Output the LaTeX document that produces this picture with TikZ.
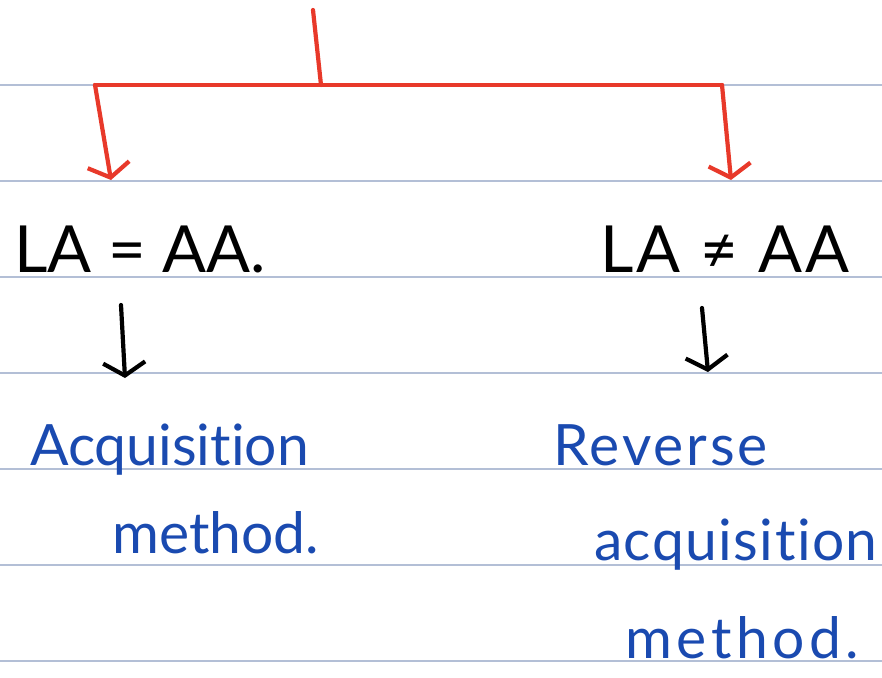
\documentclass[tikz,border=0pt]{standalone}
\usepackage{fontspec}
\setmainfont{Lato}[Ligatures={NoCommon,NoRequired,NoContextual}]
\usetikzlibrary{arrows.meta}
\definecolor{rulecol}{HTML}{B3BFD6}
\definecolor{inkred}{HTML}{E8392A}
\definecolor{inkblue}{HTML}{1A4AB0}
\tikzset{
  ruleline/.style={draw=rulecol, line width=1.4pt},
  redink/.style={draw=inkred, line width=4.2pt, line cap=round, line join=round},
  blackink/.style={draw=black, line width=4.2pt, line cap=round},
  barb/.style={-{Straight Barb[length=13pt,width=42pt,line width=4.2pt]}},
  eqtext/.style={anchor=base west, inner sep=0pt, text=black, font=\fontsize{65}{65}\selectfont},
  bluetext/.style={anchor=base west, inner sep=0pt, text=inkblue, font=\fontsize{57}{57}\selectfont}
}
\begin{document}
\begin{tikzpicture}[x=1pt,y=-1pt]
\useasboundingbox (0,0) rectangle (882,677);
\fill[white] (0,0) rectangle (882,677);
% ruled lines
\foreach \yy in {85,181,277,373,469,565,661}
  \draw[ruleline] (0,\yy) -- (882,\yy);
% red tree
\coordinate (top) at (313,10);
\coordinate (junc) at (321,85);
\coordinate (lcorner) at (95,85);
\coordinate (rcorner) at (722,85);
\coordinate (ltip) at (111,180);
\coordinate (rtip) at (731,180);
\draw[redink] (top) -- (junc);
\draw[redink] (lcorner) -- (rcorner);
\draw[redink, barb] (lcorner) -- (ltip);
\draw[redink, barb] (rcorner) -- (rtip);
% equations
\node[eqtext] (eqL) at (14,272) {LA = AA.};
\node[eqtext] (eqR) at (600,272) {\addfontfeature{LetterSpace=5}LA ≠ AA};
% black arrows
\coordinate (la1) at (121,305);
\coordinate (la2) at (125,378);
\coordinate (ra1) at (702,308);
\coordinate (ra2) at (708,372);
\draw[blackink, barb] (la1) -- (la2);
\draw[blackink, barb] (ra1) -- (ra2);
% blue text
\node[bluetext] (acqL) at (30,465) {Acquisition};
\node[bluetext] (metL) at (112,553) {method.};
\node[bluetext] (revR) at (553,465) {\addfontfeature{LetterSpace=5}Reverse};
\node[bluetext] (acqR) at (594,560) {\addfontfeature{LetterSpace=2.5}acquisition};
\node[bluetext] (metR) at (625,658) {\addfontfeature{LetterSpace=8}method.};
\end{tikzpicture}
\end{document}
